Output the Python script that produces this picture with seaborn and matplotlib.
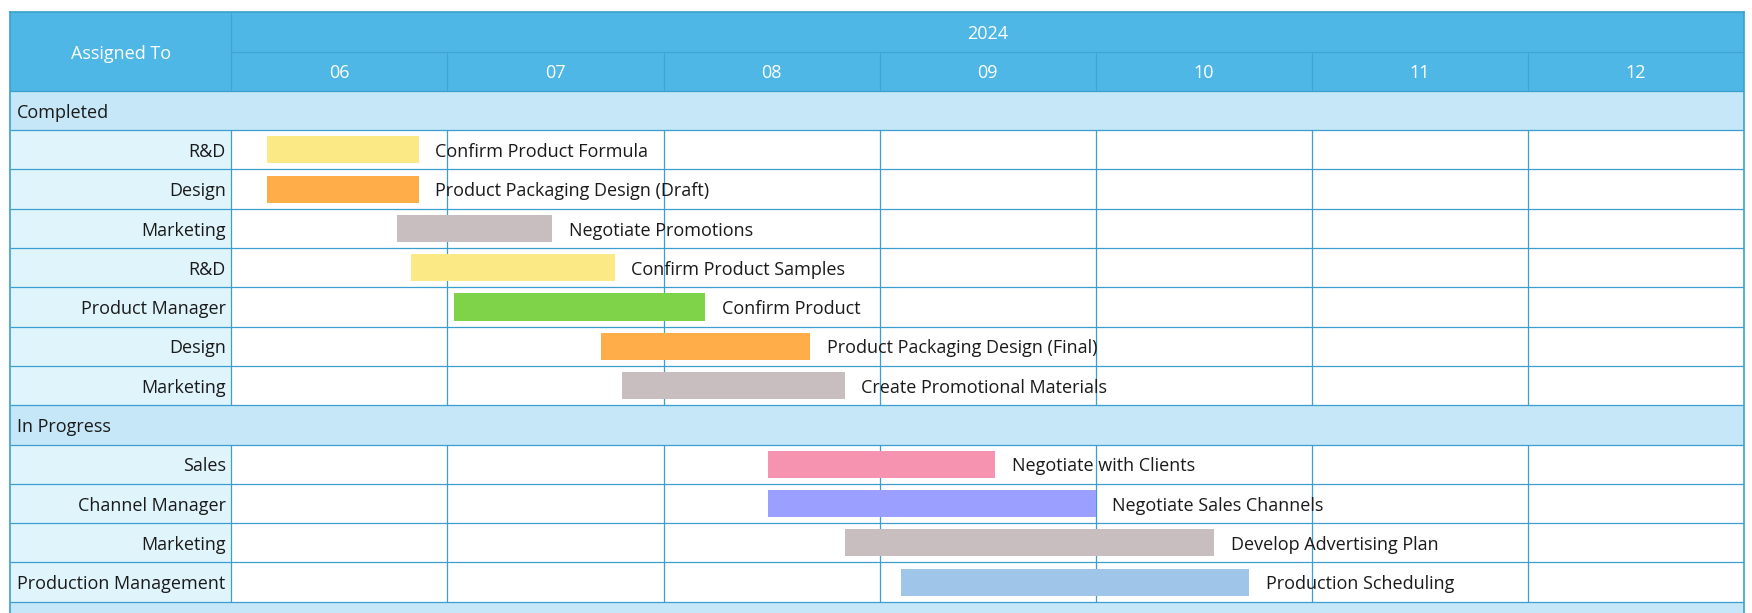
import pandas as pd
import matplotlib.pyplot as plt
import seaborn as sns
from matplotlib.patches import Rectangle

year = '2024'
months = ['06', '07', '08', '09', '10', '11', '12']
first_month = 6

groups = ['Completed', 'In Progress', '']
group_sizes = [7, 4, 0]

tasks = ['Confirm Product Formula', 'Product Packaging Design (Draft)', 'Negotiate Promotions',
         'Confirm Product Samples', 'Confirm Product', 'Product Packaging Design (Final)',
         'Create Promotional Materials', 'Negotiate with Clients', 'Negotiate Sales Channels',
         'Develop Advertising Plan', 'Production Scheduling']
owners = ['R&D', 'Design', 'Marketing', 'R&D', 'Product Manager', 'Design', 'Marketing',
          'Sales', 'Channel Manager', 'Marketing', 'Production Management']
start_dates = ['2024-06-06', '2024-06-06', '2024-06-24', '2024-06-26', '2024-07-02', '2024-07-23',
               '2024-07-26', '2024-08-16', '2024-08-16', '2024-08-27', '2024-09-04']
end_dates = ['2024-06-27', '2024-06-27', '2024-07-16', '2024-07-25', '2024-08-07', '2024-08-22',
             '2024-08-27', '2024-09-17', '2024-10-01', '2024-10-18', '2024-10-23']
bar_colors = ['#FAE984', '#FFAD48', '#C8BDBF', '#FAE984', '#7ED348', '#FFAD48', '#C8BDBF',
              '#F693B1', '#9B9FFF', '#C8BDBF', '#9FC5E8']

header_c = '#4FB7E5'
group_c = '#C6E7F7'
label_c = '#E0F4FC'
line_c = '#3A9FCF'
text_c = '#1A1A1A'


def month_pos(s):
    # each month is one equal-width column, days spread inside it
    d = pd.Timestamp(s)
    return (d.month - first_month) + (d.day - 1) / d.days_in_month


df = pd.DataFrame({
    'task': tasks,
    'owner': owners,
    'start': [month_pos(s) for s in start_dates],
    'end': [month_pos(s) for s in end_dates],
})

# row layout: two header rows, then group rows followed by their tasks
rows = [('_year', 'header', ''), ('_month', 'header', '')]
i = 0
for g, n in zip(groups, group_sizes):
    rows.append(('_grp_' + g, 'group', g))
    for k in range(i, i + n):
        rows.append((tasks[k], 'task', owners[k]))
    i += n
row_keys = [r[0] for r in rows]

sns.set_theme(style='white')
plt.rcParams['font.family'] = ['Open Sans', 'DejaVu Sans']

W, H = 1752, 613
left_px, right_px, top_px = 10.3, 1744, 12.3
fig = plt.figure(figsize=(W / 100, H / 100), dpi=100)
ax = fig.add_axes([left_px / W, 0, (right_px - left_px) / W, 1 - top_px / H])

n_months = len(months)
month_px = (right_px - 231.3) / n_months
label_w = (231.3 - left_px) / month_px
row_px = (H - top_px) / 15.285
n_vis = (H - top_px) / row_px

sns.barplot(data=df, x='end', y='task', order=row_keys, hue='task',
            palette=dict(zip(tasks, bar_colors)), saturation=1, width=0.69,
            errorbar=None, legend=False, ax=ax, zorder=3)

start_of = dict(zip(df['task'], df['start']))
for p in list(ax.patches):
    key = row_keys[int(round(p.get_y() + p.get_height() / 2))]
    s = start_of[key]
    p.set_x(s)
    p.set_width(p.get_width() - s)
    p.set_linewidth(0)

ax.set_xlim(-label_w, n_months)
ax.set_ylim(n_vis - 0.5, -0.5)
ax.set_xlabel('')
ax.set_ylabel('')
ax.set_xticks([])
ax.set_yticks([])
ax.set_facecolor('white')

# cell backgrounds
ax.add_patch(Rectangle((-label_w, -0.5), label_w + n_months, 2, color=header_c, zorder=0, lw=0))
for idx, (key, kind, lab) in enumerate(rows):
    if kind == 'group':
        ax.add_patch(Rectangle((-label_w, idx - 0.5), label_w + n_months, 1, color=group_c, zorder=0, lw=0))
    elif kind == 'task':
        ax.add_patch(Rectangle((-label_w, idx - 0.5), label_w, 1, color=label_c, zorder=0, lw=0))

# grid lines
lw = 0.9
ax.hlines(0.5, 0, n_months, color='#3FA6D4', lw=lw, zorder=1)
for idx in range(2, len(rows)):
    ax.hlines(idx - 0.5, -label_w, n_months, color=line_c, lw=lw, zorder=1)
ax.vlines(0, -0.5, 1.5, color='#3FA6D4', lw=lw, zorder=1)
ax.vlines(range(1, n_months), 0.5, 1.5, color='#3FA6D4', lw=lw, zorder=1)
for idx, (key, kind, lab) in enumerate(rows):
    if kind == 'task':
        ax.vlines(range(0, n_months), idx - 0.5, idx + 0.5, color=line_c, lw=lw, zorder=1)

for side in ['left', 'right', 'top']:
    ax.spines[side].set_visible(True)
    ax.spines[side].set_color(line_c)
    ax.spines[side].set_linewidth(1.2)
ax.spines['bottom'].set_visible(False)

fs = 13
dy = -1.5
# header texts
ax.annotate('Assigned To', (-label_w / 2, 0.5), xytext=(0, dy), textcoords='offset points',
            ha='center', va='center', color='white', fontsize=fs)
ax.annotate(year, (n_months / 2, 0), xytext=(0, dy), textcoords='offset points',
            ha='center', va='center', color='white', fontsize=fs)
for m, lab in enumerate(months):
    ax.annotate(lab, (m + 0.5, 1), xytext=(0, dy), textcoords='offset points',
                ha='center', va='center', color='white', fontsize=fs)

for idx, (key, kind, lab) in enumerate(rows):
    if kind == 'group':
        ax.annotate(lab, (-label_w, idx), xytext=(4.7, dy), textcoords='offset points',
                    ha='left', va='center', color=text_c, fontsize=fs)
    elif kind == 'task':
        ax.annotate(lab, (0, idx), xytext=(-4, dy), textcoords='offset points',
                    ha='right', va='center', color=text_c, fontsize=fs)
        end = df.loc[df['task'] == key, 'end'].iloc[0]
        ax.annotate(key, (end, idx), xytext=(12, dy), textcoords='offset points',
                    ha='left', va='center', color=text_c, fontsize=fs, zorder=4)

fig.savefig('out.png', dpi=100)
